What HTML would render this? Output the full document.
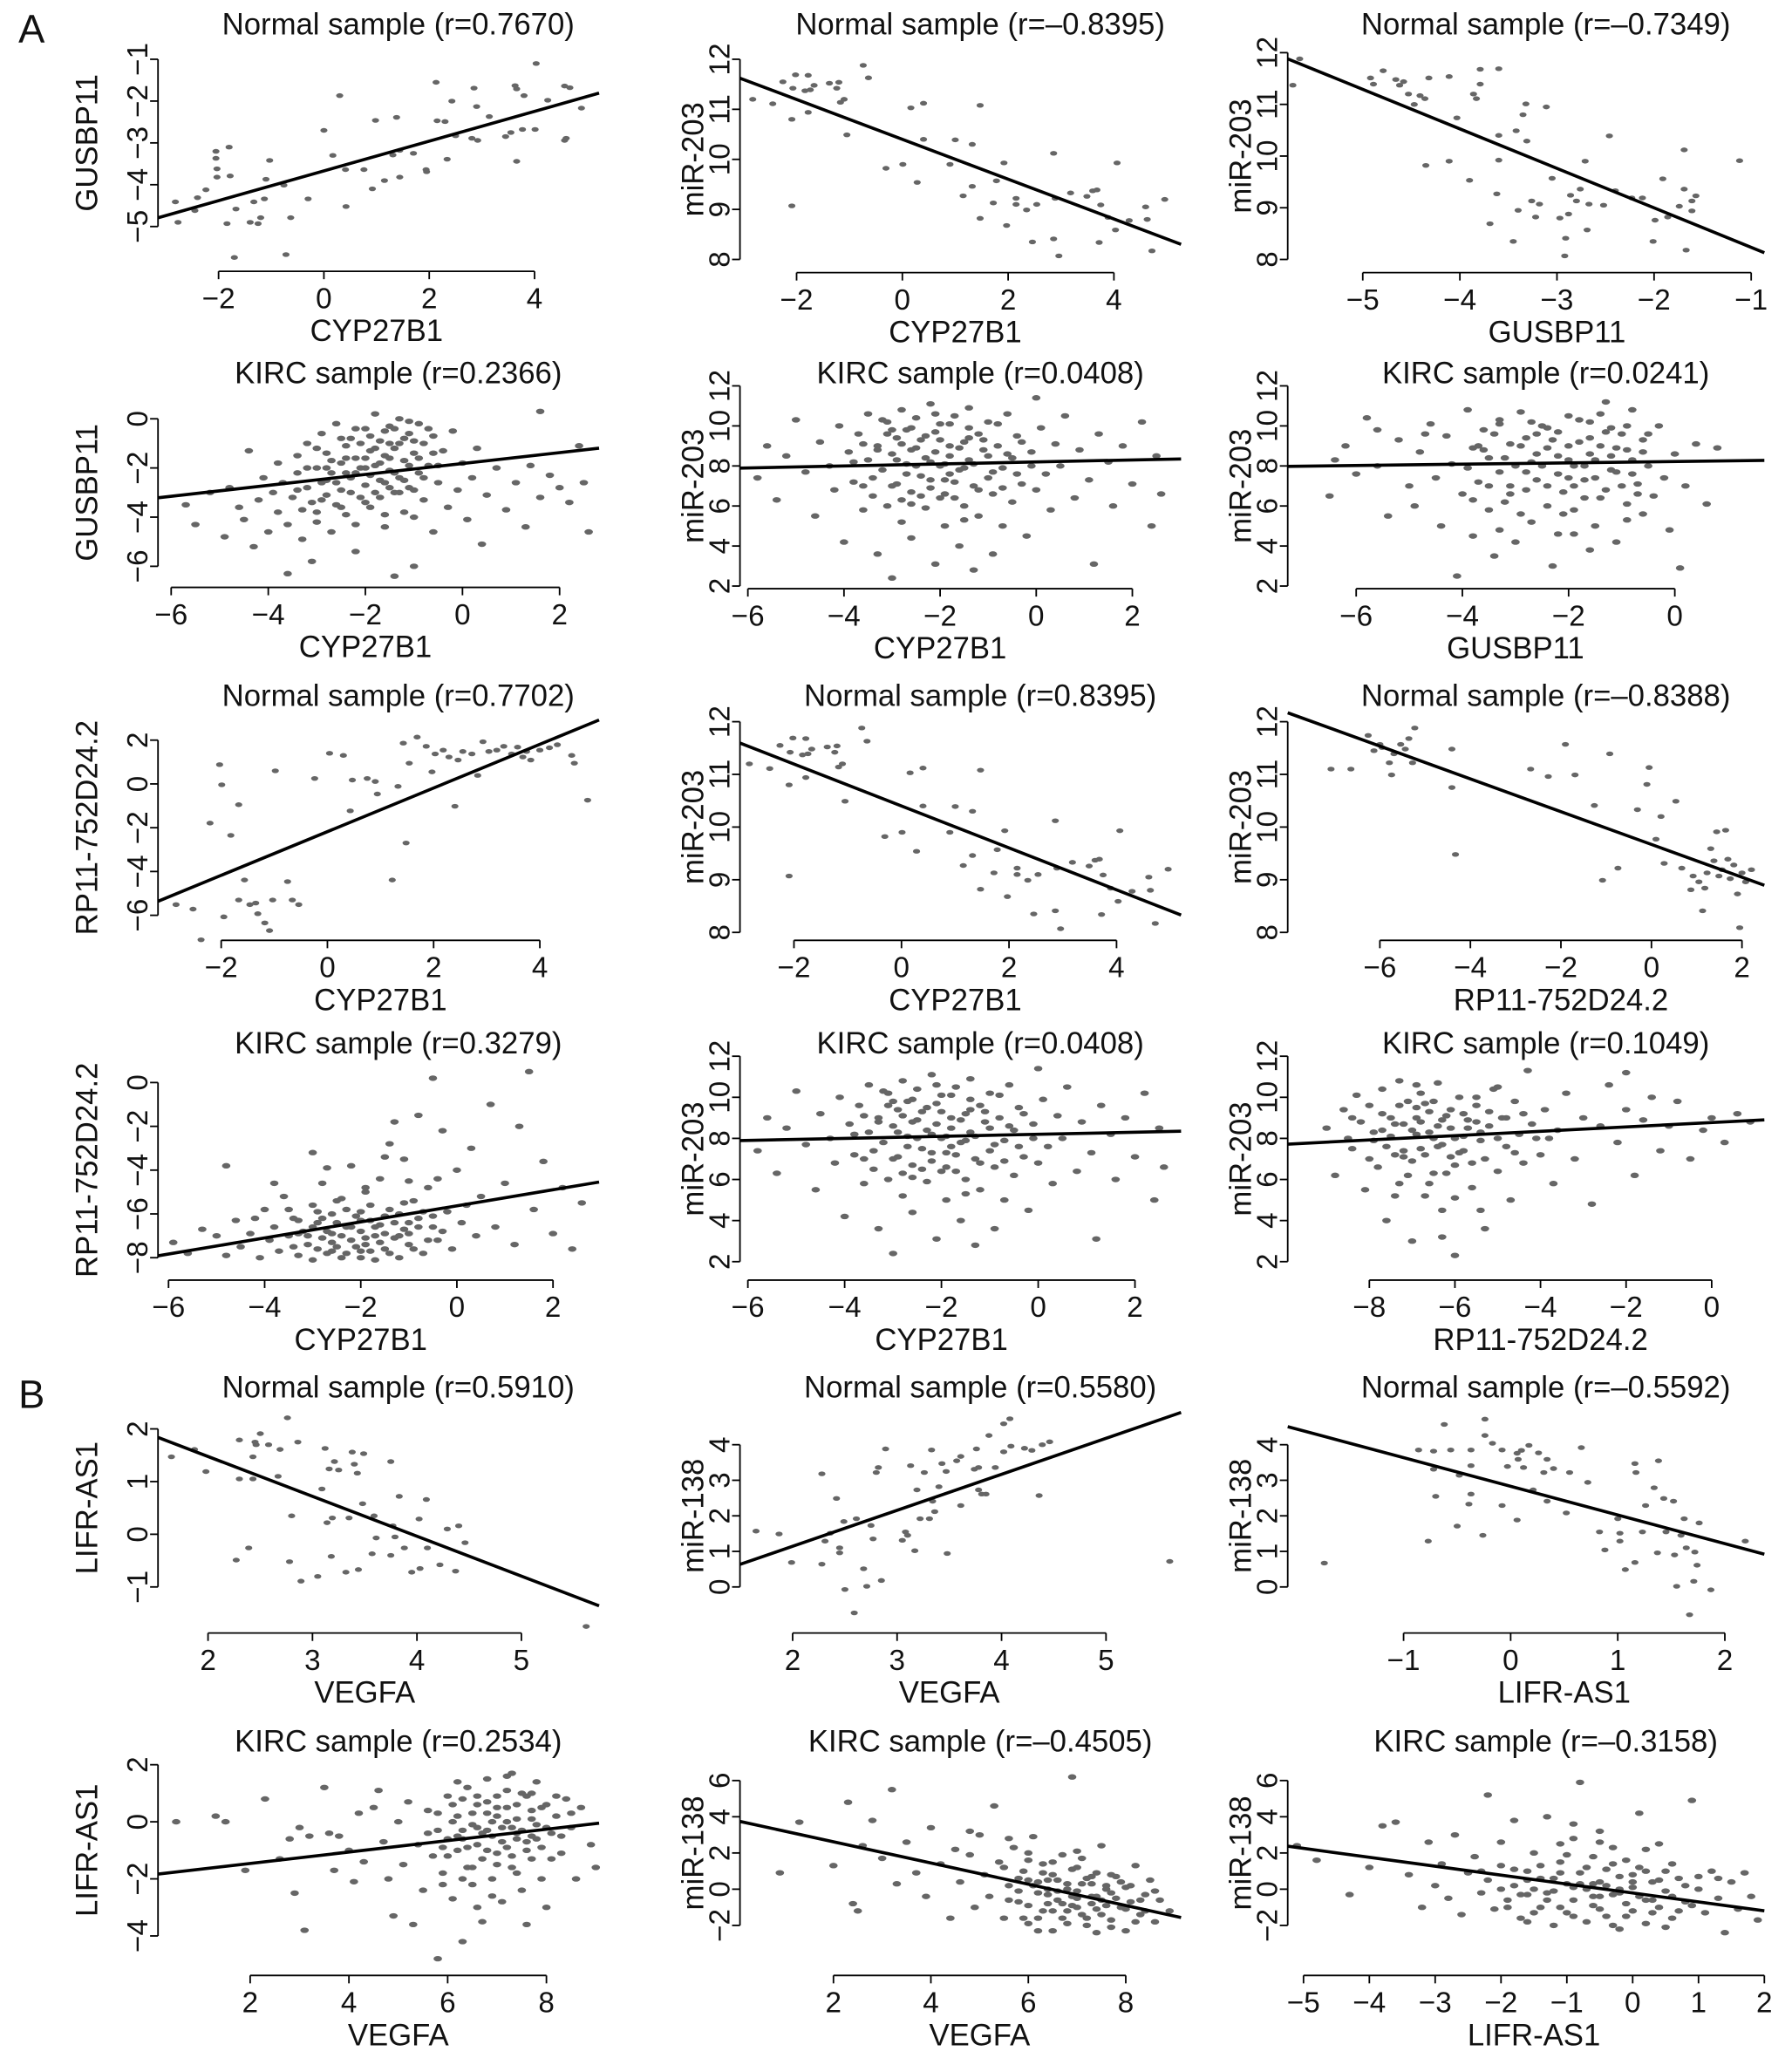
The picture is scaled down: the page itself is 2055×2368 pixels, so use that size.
<!DOCTYPE html>
<html><head><meta charset="utf-8"><title>Correlation scatter plots</title>
<style>
html,body{margin:0;padding:0;background:#fff;}
svg{display:block;}
text{font-family:"Liberation Sans",Arial,sans-serif;fill:#111;}
</style></head>
<body>
<svg id="fig" xmlns="http://www.w3.org/2000/svg" width="2055" height="2368" viewBox="0 0 1361 1568" preserveAspectRatio="none">
<rect x="0" y="0" width="1361" height="1568" fill="#fff"/>
<text x="14" y="32" font-size="30">A</text>
<text x="14" y="1069" font-size="30">B</text>
</svg>
<script>
const titles=["Normal sample (r=0.7670)","Normal sample (r=–0.8395)","Normal sample (r=–0.7349)",
"KIRC sample (r=0.2366)","KIRC sample (r=0.0408)","KIRC sample (r=0.0241)",
"Normal sample (r=0.7702)","Normal sample (r=0.8395)","Normal sample (r=–0.8388)",
"KIRC sample (r=0.3279)","KIRC sample (r=0.0408)","KIRC sample (r=0.1049)",
"Normal sample (r=0.5910)","Normal sample (r=0.5580)","Normal sample (r=–0.5592)",
"KIRC sample (r=0.2534)","KIRC sample (r=–0.4505)","KIRC sample (r=–0.3158)"];
const xLabels=["CYP27B1","CYP27B1","GUSBP11","CYP27B1","CYP27B1","GUSBP11","CYP27B1","CYP27B1","RP11-752D24.2","CYP27B1","CYP27B1","RP11-752D24.2","VEGFA","VEGFA","LIFR-AS1","VEGFA","VEGFA","LIFR-AS1"];
const yLabels=["GUSBP11","miR-203","miR-203","GUSBP11","miR-203","miR-203","RP11-752D24.2","miR-203","miR-203","RP11-752D24.2","miR-203","miR-203","LIFR-AS1","miR-138","miR-138","LIFR-AS1","miR-138","miR-138"];
const xTicks=[[-2,0,2,4],[-2,0,2,4],[-5,-4,-3,-2,-1],[-6,-4,-2,0,2],[-6,-4,-2,0,2],[-6,-4,-2,0],[-2,0,2,4],[-2,0,2,4],[-6,-4,-2,0,2],[-6,-4,-2,0,2],[-6,-4,-2,0,2],[-8,-6,-4,-2,0],[2,3,4,5],[2,3,4,5],[-1,0,1,2],[2,4,6,8],[2,4,6,8],[-5,-4,-3,-2,-1,0,1,2]];
const yTicks=[[-5,-4,-3,-2,-1],[8,9,10,11,12],[8,9,10,11,12],[-6,-4,-2,0],[2,4,6,8,10,12],[2,4,6,8,10,12],[-6,-4,-2,0,2],[8,9,10,11,12],[8,9,10,11,12],[-8,-6,-4,-2,0],[2,4,6,8,10,12],[2,4,6,8,10,12],[-1,0,1,2],[0,1,2,3,4],[0,1,2,3,4],[-4,-2,0,2],[-2,0,2,4,6],[-2,0,2,4,6]];
const fitSlope=[0.356,-0.398,-0.764,0.222,0.05,0.033,0.997,-0.398,-0.311,0.367,0.05,0.106,-0.757,1.012,-0.806,0.2,-0.586,-0.493];
const fitIntercept=[-3.67,10.40,7.47,-1.82,8.2,8.22,-2.18,10.40,9.67,-5.63,8.2,8.77,2.99,-0.88,2.83,-1.86,3.79,-0.21];

const ptsNormCypGus=[[-2.82,-4.41],[-2.77,-4.9],[-2.45,-4.62],[-2.4,-4.31],[-2.24,-4.12],[-2.05,-3.2],[-2.05,-3.37],[-2.03,-3.62],[-2.03,-3.82],[-1.8,-3.1],[-1.78,-3.79],[-1.84,-4.93],[-1.67,-4.58],[-1.7,-5.74],[-1.4,-4.9],[-1.33,-4.41],[-1.25,-4.93],[-1.2,-4.79],[-1.13,-4.34],[-1.1,-3.87],[-1.03,-3.42],[-0.76,-4.01],[-0.72,-5.67],[-0.63,-4.79],[-0.3,-4.34],[0,-2.7],[0.17,-3.3],[0.3,-1.87],[0.41,-3.64],[0.42,-4.52],[0.76,-3.64],[0.92,-4.1],[0.98,-2.46],[1.15,-3.9],[1.31,-3.29],[1.38,-2.39],[1.44,-3.18],[1.44,-3.82],[1.7,-3.25],[1.94,-3.64],[1.95,-3.69],[2.13,-1.55],[2.15,-2.47],[2.3,-2.49],[2.34,-3.39],[2.43,-2.0],[2.5,-2.83],[2.85,-1.69],[2.9,-2.13],[2.81,-2.89],[2.92,-2.94],[3.14,-2.37],[3.45,-2.85],[3.55,-2.75],[3.63,-1.63],[3.66,-1.71],[3.66,-3.44],[3.77,-2.68],[3.8,-1.87],[4.03,-1.1],[4.01,-2.68],[4.25,-1.98],[4.57,-1.64],[4.67,-1.68],[4.57,-2.94],[4.6,-2.89],[4.89,-2.17]];
const ptsNormCypMir=[[-2.83,11.2],[-2.45,11.11],[-2.26,11.55],[-2.09,10.8],[-2.07,11.42],[-2.09,9.07],[-2.02,11.69],[-1.84,11.37],[-1.78,11.68],[-1.78,10.94],[-1.74,11.39],[-1.67,11.48],[-1.38,11.52],[-1.24,11.42],[-1.2,11.54],[-1.17,11.14],[-1.1,11.2],[-1.05,10.49],[-0.74,11.88],[-0.64,11.63],[-0.31,9.82],[0.01,9.9],[0.16,11.03],[0.4,11.12],[0.28,9.54],[0.4,10.4],[0.9,9.9],[1.0,10.39],[1.15,9.27],[1.32,10.3],[1.32,9.46],[1.47,11.08],[1.47,8.82],[1.72,9.13],[1.78,9.57],[1.92,9.93],[1.97,8.68],[2.15,9.22],[2.15,9.1],[2.35,8.99],[2.46,8.35],[2.54,9.1],[2.86,10.12],[2.89,9.22],[2.86,8.41],[2.96,8.07],[3.18,9.33],[3.49,9.26],[3.6,9.37],[3.68,9.39],[3.75,9.09],[3.72,8.34],[3.89,8.84],[4.03,8.59],[4.06,9.93],[4.29,8.78],[4.6,9.05],[4.63,8.8],[4.72,8.17],[4.96,9.2]];
const ptsNormGusMir=[[-5.72,11.37],[-5.65,11.88],[-4.92,11.51],[-4.89,11.39],[-4.79,11.65],[-4.66,11.48],[-4.62,11.37],[-4.58,11.44],[-4.53,11.2],[-4.47,11.0],[-4.41,11.17],[-4.36,11.11],[-4.32,11.51],[-4.35,9.82],[-4.11,11.54],[-4.11,9.9],[-4.03,10.74],[-3.9,9.53],[-3.86,11.2],[-3.83,11.11],[-3.79,11.68],[-3.79,11.39],[-3.69,8.69],[-3.62,9.27],[-3.6,10.4],[-3.6,9.92],[-3.6,11.69],[-3.45,8.35],[-3.42,10.49],[-3.4,8.95],[-3.35,10.8],[-3.32,11.01],[-3.31,10.29],[-3.26,9.13],[-3.22,8.82],[-3.18,9.07],[-3.11,10.95],[-3.05,9.57],[-2.97,8.8],[-2.92,8.07],[-2.91,8.41],[-2.88,8.88],[-2.86,9.24],[-2.8,9.13],[-2.76,9.36],[-2.71,9.9],[-2.69,8.57],[-2.67,9.07],[-2.52,9.05],[-2.46,10.39],[-2.4,9.33],[-2.23,9.19],[-2.12,9.19],[-2.01,8.35],[-1.99,8.76],[-1.91,9.56],[-1.86,8.82],[-1.74,9.03],[-1.69,10.12],[-1.69,9.36],[-1.67,8.18],[-1.61,9.13],[-1.57,9.23],[-1.61,8.94],[-1.12,9.91]];
const ptsKircCypGus=[[-5.7,-3.5],[-5.5,-4.3],[-5.2,-3.0],[-4.9,-4.8],[-4.8,-2.8],[-4.6,-3.6],[-4.5,-4.1],[-4.4,-1.3],[-4.3,-5.2],[-4.2,-3.3],[-4.1,-2.4],[-4.0,-4.6],[-3.9,-3.0],[-3.8,-1.8],[-3.8,-3.8],[-3.7,-2.6],[-3.6,-4.3],[-3.6,-6.3],[-3.5,-3.2],[-3.4,-1.5],[-3.4,-2.2],[-3.3,-3.7],[-3.3,-4.9],[-3.2,-2.8],[-3.2,-1.0],[-3.1,-3.4],[-3.0,-2.0],[-3.0,-4.2],[-2.9,-0.6],[-2.9,-2.6],[-2.8,-3.1],[-2.8,-1.4],[-2.7,-4.6],[-2.7,-2.2],[-2.6,-3.5],[-2.6,-0.2],[-2.5,-1.8],[-2.5,-2.9],[-2.4,-1.1],[-2.4,-3.9],[-2.3,-2.4],[-2.3,-0.8],[-2.2,-5.4],[-2.2,-1.6],[-2.1,-3.2],[-2.1,-2.0],[-2.0,-0.4],[-2.0,-2.7],[-1.9,-1.3],[-1.9,-3.6],[-1.8,-1.9],[-1.8,0.2],[-1.7,-2.5],[-1.7,-0.9],[-1.6,-4.4],[-1.6,-1.5],[-1.5,-2.1],[-1.5,-0.3],[-1.4,-3.0],[-1.4,-1.2],[-1.3,-2.4],[-1.3,0.0],[-1.2,-1.7],[-1.2,-3.8],[-1.1,-0.6],[-1.1,-2.8],[-1.0,-1.4],[-1.0,-4.0],[-0.9,-2.2],[-0.9,-0.2],[-0.8,-1.0],[-0.8,-3.3],[-0.7,-1.9],[-0.6,-0.7],[-0.6,-4.6],[-0.5,-2.6],[-0.4,-1.3],[-0.3,-3.6],[-0.2,-0.5],[-0.1,-2.9],[0.0,-1.8],[0.1,-4.1],[0.2,-2.4],[0.3,-1.2],[0.4,-5.1],[0.5,-3.1],[0.7,-2.0],[0.9,-3.7],[1.1,-2.6],[1.3,-4.4],[1.4,-1.9],[1.6,-3.2],[1.8,-2.3],[2.0,-2.8],[2.2,-3.4],[2.4,-1.1],[2.5,-2.6],[2.6,-4.6],[1.6,0.3],[-1.0,-6.0],[-3.1,-5.8],[-1.4,-6.4],[-2.0,-1.6],[-1.6,-2.6],[-2.4,-2.2],[-1.2,-0.8],[-1.8,-3.0],[-2.8,-2.0],[-1.5,-1.0],[-2.2,-0.4],
[-3.2,-2.0],[-3.0,-1.2],[-2.9,-3.3],[-2.7,-1.7],[-2.6,-2.6],[-2.5,-0.8],[-2.4,-1.6],[-2.3,-3.0],[-2.2,-2.2],[-2.1,-1.0],[-2.0,-3.4],[-1.9,-2.3],[-1.9,-0.7],[-1.8,-1.2],[-1.7,-3.2],[-1.7,-1.8],[-1.6,-0.5],[-1.5,-2.8],[-1.5,-1.6],[-1.4,-2.2],[-1.4,-0.4],[-1.3,-1.0],[-1.3,-3.0],[-1.2,-2.5],[-1.1,-1.9],[-1.1,-0.1],[-1.0,-2.9],[-1.0,-0.9],[-0.9,-1.6],[-0.8,-2.4],[-0.7,-0.4],[-0.6,-1.4],[-2.8,-2.5],[-3.4,-2.9],[-2.0,-2.0],[-1.6,-3.9],[-2.5,-3.6],[-0.5,-1.9],[-3.0,-3.8],[-2.2,-4.3]];
const ptsKircCypMir=[[-5.8,7.4],[-5.6,9.0],[-5.4,6.3],[-5.2,8.5],[-5.0,10.3],[-4.8,7.7],[-4.6,5.5],[-4.5,9.2],[-4.3,8.0],[-4.2,6.8],[-4.1,10.0],[-4.0,4.2],[-3.9,8.7],[-3.8,7.2],[-3.7,9.6],[-3.6,5.8],[-3.5,8.3],[-3.5,10.6],[-3.4,6.5],[-3.3,9.0],[-3.3,3.6],[-3.2,7.8],[-3.1,10.2],[-3.1,6.0],[-3.0,8.6],[-3.0,2.4],[-2.9,9.4],[-2.9,7.1],[-2.8,10.8],[-2.8,5.2],[-2.7,8.1],[-2.7,9.8],[-2.6,6.7],[-2.6,4.4],[-2.5,8.9],[-2.5,10.4],[-2.4,7.5],[-2.4,9.3],[-2.3,5.9],[-2.3,8.4],[-2.2,11.1],[-2.2,6.9],[-2.1,9.7],[-2.1,3.1],[-2.0,8.0],[-2.0,10.1],[-1.9,7.3],[-1.9,5.0],[-1.8,9.0],[-1.8,8.5],[-1.7,6.4],[-1.7,10.5],[-1.6,7.8],[-1.6,4.0],[-1.5,9.2],[-1.5,6.0],[-1.4,8.3],[-1.4,10.9],[-1.3,7.0],[-1.3,2.8],[-1.2,9.6],[-1.2,5.5],[-1.1,8.8],[-1.0,7.4],[-1.0,10.2],[-0.9,6.6],[-0.9,3.6],[-0.8,9.0],[-0.7,7.9],[-0.7,5.0],[-0.6,10.6],[-0.5,8.4],[-0.5,6.2],[-0.4,9.5],[-0.3,7.1],[-0.2,4.5],[-0.1,8.7],[0.0,11.4],[0.0,6.8],[0.1,9.9],[0.2,7.6],[0.3,5.8],[0.4,9.1],[0.5,8.0],[0.6,10.5],[0.8,6.4],[0.9,8.8],[1.1,7.3],[1.2,3.1],[1.3,9.6],[1.5,8.2],[1.6,6.0],[1.8,9.0],[2.0,7.1],[2.2,10.2],[2.4,5.0],[2.5,8.5],[2.6,6.6],[-2.2,8.2],[-1.8,7.6],[-2.6,8.8],[-1.4,9.4],[-3.0,9.8],[-2.0,6.4],
[-3.8,8.2],[-3.6,9.1],[-3.4,7.4],[-3.3,8.8],[-3.1,9.6],[-3.0,7.0],[-2.9,8.3],[-2.8,9.1],[-2.7,7.6],[-2.6,9.9],[-2.5,8.0],[-2.4,6.5],[-2.3,9.5],[-2.2,7.3],[-2.1,8.7],[-2.0,9.3],[-1.9,8.1],[-1.8,10.1],[-1.7,7.2],[-1.6,8.9],[-1.5,7.9],[-1.4,9.9],[-1.3,8.1],[-1.2,6.8],[-1.1,9.3],[-1.0,8.5],[-0.9,7.7],[-0.8,10.1],[-0.6,8.6],[-0.4,7.6],[-0.3,9.2],[-0.1,8.0],[-2.6,6.1],[-1.9,6.6],[-3.2,10.3],[-2.1,10.6],[-1.5,5.3],[-2.8,6.3],[-0.7,6.9],[-3.6,7.0]];
const ptsKircGusMir=[[-6.5,6.5],[-6.2,9.0],[-6.0,7.6],[-5.8,10.4],[-5.6,8.0],[-5.4,5.5],[-5.2,9.3],[-5.0,7.0],[-4.9,6.0],[-4.8,8.7],[-4.6,10.1],[-4.5,7.4],[-4.4,5.0],[-4.3,9.5],[-4.2,8.1],[-4.1,2.5],[-4.0,6.6],[-3.9,10.8],[-3.8,8.9],[-3.8,4.5],[-3.7,7.2],[-3.6,9.8],[-3.5,5.8],[-3.5,8.4],[-3.4,3.5],[-3.3,10.3],[-3.3,7.7],[-3.2,6.2],[-3.1,9.1],[-3.0,4.2],[-3.0,8.0],[-2.9,10.7],[-2.8,6.8],[-2.8,9.4],[-2.7,5.2],[-2.6,8.6],[-2.6,7.3],[-2.5,10.0],[-2.4,6.0],[-2.4,8.9],[-2.3,3.0],[-2.2,7.6],[-2.2,9.7],[-2.1,5.6],[-2.0,8.3],[-2.0,10.5],[-1.9,7.0],[-1.9,4.6],[-1.8,9.2],[-1.7,6.4],[-1.7,8.0],[-1.6,10.2],[-1.5,7.4],[-1.5,5.0],[-1.4,9.0],[-1.3,6.8],[-1.3,11.2],[-1.2,8.5],[-1.1,4.2],[-1.1,7.7],[-1.0,9.6],[-0.9,6.1],[-0.9,8.8],[-0.8,10.8],[-0.7,7.1],[-0.6,5.6],[-0.6,9.3],[-0.5,8.0],[-0.4,6.5],[-0.3,10.0],[-0.2,7.4],[-0.1,4.8],[0.0,8.6],[0.1,2.9],[0.2,7.0],[0.4,9.1],[0.6,6.1],[0.8,8.9],[-2.7,8.2],[-2.0,7.4],[-1.6,8.6],[-3.1,7.0],[-2.4,9.9],[-1.2,9.9],[-3.6,8.8],[-0.8,7.6],[-4.7,9.6],[-5.6,9.8],[-6.4,8.3],
[-3.9,7.9],[-3.7,9.0],[-3.5,7.0],[-3.4,9.6],[-3.2,8.4],[-3.1,6.6],[-2.9,9.0],[-2.8,7.7],[-2.7,10.2],[-2.5,8.0],[-2.4,7.0],[-2.3,9.3],[-2.2,8.5],[-2.1,6.7],[-2.0,9.0],[-1.9,8.0],[-1.8,10.3],[-1.7,7.3],[-1.6,9.4],[-1.5,8.3],[-1.4,6.4],[-1.3,9.7],[-1.2,7.8],[-1.1,8.9],[-1.0,7.0],[-0.9,10.0],[-0.8,8.3],[-0.7,6.6],[-0.6,8.7],[-0.5,9.6],[-2.6,9.6],[-3.3,10.1],[-1.9,5.8],[-2.9,5.6],[-1.4,10.6],[-0.9,5.3],[-3.8,6.3],[-2.2,4.6],[-1.6,3.8],[-3.3,4.8]];
const ptsNormCypRp=[[-2.85,-5.51],[-2.38,-7.12],[-2.53,-5.72],[-2.21,-1.79],[-2.03,0.88],[-1.99,-0.04],[-1.95,-6.07],[-1.82,-2.35],[-1.67,-0.95],[-1.67,-5.3],[-1.56,-4.39],[-1.46,-5.51],[-1.35,-5.44],[-1.31,-5.93],[-1.18,-6.35],[-1.09,-6.7],[-1.03,-5.3],[-0.98,0.6],[-0.75,-4.46],[-0.66,-5.3],[-0.54,-5.51],[-0.24,0.25],[0.04,1.4],[0.3,1.3],[0.47,0.18],[0.43,-1.23],[0.75,0.25],[0.9,0.11],[0.94,-0.46],[1.22,-4.39],[1.33,-0.11],[1.43,1.86],[1.48,-2.7],[1.54,0.95],[1.69,2.14],[1.86,1.72],[1.97,0.55],[2.03,1.37],[2.18,1.54],[2.29,1.23],[2.4,-1.02],[2.46,1.09],[2.55,1.48],[2.72,1.37],[2.83,0.39],[2.93,1.93],[3.04,1.48],[3.19,1.54],[3.32,1.72],[3.47,1.37],[3.58,1.68],[3.68,1.23],[3.75,1.48],[3.83,1.09],[4.0,1.54],[4.18,1.65],[4.33,1.79],[4.6,1.3],[4.65,0.95],[4.9,-0.74]];
const ptsNormRpMir=[[-7.08,11.1],[-6.64,11.1],[-6.26,11.74],[-6.13,11.45],[-6.0,11.57],[-5.95,11.51],[-5.79,11.22],[-5.69,11.39],[-5.74,10.99],[-5.54,11.57],[-5.44,11.48],[-5.36,11.68],[-5.28,11.22],[-5.23,11.88],[-4.41,11.48],[-4.41,10.75],[-4.33,9.48],[-2.67,11.1],[-2.28,10.96],[-1.9,11.57],[-1.69,10.99],[-1.26,10.41],[-1.08,8.99],[-0.92,11.39],[-0.74,9.22],[-0.31,10.33],[-0.1,10.81],[-0.05,11.13],[0.1,9.77],[0.21,10.2],[0.28,9.31],[0.54,10.49],[0.67,9.22],[0.87,8.81],[0.92,9.07],[1.05,8.96],[1.13,8.41],[1.18,8.84],[1.23,9.13],[1.31,9.59],[1.38,9.36],[1.44,9.91],[1.49,9.07],[1.56,9.19],[1.64,9.94],[1.69,9.39],[1.74,9.02],[1.82,9.28],[1.9,8.73],[1.95,8.09],[2.0,9.13],[2.08,8.96],[2.21,9.19]];
const ptsKircCypRp=[[-5.9,-7.3],[-5.6,-7.8],[-5.3,-6.7],[-5.0,-7.0],[-4.8,-7.9],[-4.6,-6.3],[-4.5,-7.5],[-4.3,-6.9],[-4.1,-8.0],[-4.0,-5.8],[-3.9,-7.2],[-3.8,-6.6],[-3.7,-7.7],[-3.6,-5.2],[-3.5,-7.0],[-3.4,-6.2],[-3.3,-7.9],[-3.2,-6.8],[-3.1,-7.4],[-3.0,-5.6],[-3.0,-8.1],[-2.9,-6.4],[-2.8,-7.1],[-2.8,-4.6],[-2.7,-7.8],[-2.6,-6.0],[-2.6,-6.9],[-2.5,-7.5],[-2.4,-5.3],[-2.4,-8.0],[-2.3,-6.6],[-2.2,-7.2],[-2.2,-3.8],[-2.1,-6.1],[-2.0,-7.7],[-2.0,-6.8],[-1.9,-5.0],[-1.9,-7.4],[-1.8,-6.3],[-1.7,-8.1],[-1.7,-7.0],[-1.6,-4.4],[-1.6,-6.5],[-1.5,-7.6],[-1.4,-5.8],[-1.4,-2.8],[-1.3,-7.1],[-1.2,-6.0],[-1.2,-8.0],[-1.1,-3.5],[-1.1,-6.7],[-1.0,-7.4],[-0.9,-5.4],[-0.8,-6.2],[-0.8,-1.5],[-0.7,-7.8],[-0.6,-4.8],[-0.5,-6.6],[-0.5,0.2],[-0.4,-7.2],[-0.3,-2.2],[-0.2,-5.9],[-0.1,-7.6],[0.0,-4.0],[0.1,-6.4],[0.3,-3.0],[0.4,-7.0],[0.5,-5.2],[0.7,-1.0],[0.8,-6.6],[1.0,-4.6],[1.2,-7.4],[1.3,-2.0],[1.5,0.5],[1.6,-5.8],[1.8,-3.6],[2.0,-6.9],[2.2,-4.8],[2.4,-7.6],[2.6,-5.5],[-2.3,-7.8],[-1.8,-7.7],[-2.6,-7.3],[-3.3,-6.9],[-1.5,-6.9],[-1.0,-6.4],[-2.0,-5.9],[-2.9,-5.9],[-3.8,-4.6],[-4.8,-3.8],[-1.3,-1.8],[-3.0,-3.2],
[-3.4,-7.5],[-3.3,-6.3],[-3.1,-7.0],[-3.0,-6.6],[-2.9,-7.6],[-2.8,-6.2],[-2.7,-6.8],[-2.6,-7.7],[-2.5,-6.4],[-2.4,-7.0],[-2.3,-5.8],[-2.2,-6.6],[-2.1,-7.5],[-2.0,-6.3],[-1.9,-7.1],[-1.8,-5.6],[-1.7,-6.6],[-1.6,-7.3],[-1.5,-6.1],[-1.4,-7.8],[-1.3,-6.4],[-1.2,-7.0],[-1.1,-5.5],[-1.0,-6.9],[-0.9,-7.6],[-0.8,-6.6],[-0.7,-5.9],[-0.6,-7.2],[-0.5,-6.1],[-0.3,-6.8],[-2.5,-5.4],[-1.9,-4.8],[-3.5,-5.8],[-1.0,-4.5],[-2.7,-3.9],[-0.4,-4.4],[-1.5,-3.4],[0.2,-5.6],[-4.2,-6.2],[-2.0,-8.0]];
const ptsKircRpMir=[[-9.0,8.5],[-8.8,6.2],[-8.6,9.4],[-8.4,7.5],[-8.3,10.1],[-8.2,8.8],[-8.1,5.5],[-8.0,9.6],[-7.9,7.9],[-7.8,6.6],[-7.7,10.4],[-7.7,8.4],[-7.6,4.0],[-7.5,9.0],[-7.4,7.2],[-7.3,10.8],[-7.3,5.8],[-7.2,8.7],[-7.1,9.8],[-7.0,6.9],[-7.0,3.0],[-6.9,8.2],[-6.8,10.2],[-6.8,7.5],[-6.7,5.2],[-6.6,9.3],[-6.5,8.0],[-6.5,6.3],[-6.4,10.7],[-6.3,7.7],[-6.3,4.5],[-6.2,9.1],[-6.1,8.5],[-6.0,6.7],[-6.0,2.3],[-5.9,10.0],[-5.8,7.4],[-5.7,8.9],[-5.6,5.6],[-5.5,9.6],[-5.4,7.9],[-5.3,3.6],[-5.2,8.6],[-5.1,10.4],[-5.0,6.4],[-4.9,9.0],[-4.8,7.6],[-4.7,5.0],[-4.6,9.8],[-4.5,8.2],[-4.4,6.8],[-4.3,11.3],[-4.2,8.7],[-4.0,7.2],[-3.9,9.4],[-3.7,5.8],[-3.6,8.4],[-3.4,10.2],[-3.2,7.0],[-3.0,9.0],[-2.8,4.8],[-2.6,8.6],[-2.4,10.6],[-2.2,7.8],[-2.0,9.4],[-1.8,6.2],[-1.6,8.9],[-1.4,10.0],[-1.2,7.4],[-1.0,8.6],[-0.8,9.8],[-0.5,7.0],[-0.2,8.4],[0.0,9.0],[0.3,7.8],[0.6,9.2],[0.9,8.8],[-7.5,8.1],[-6.9,9.0],[-6.4,8.6],[-5.8,8.1],[-7.2,7.4],[-6.1,7.1],[-5.5,8.8],[-8.5,8.0],[-6.7,9.7],[-4.1,8.0],[-2.0,11.2],
[-7.9,8.3],[-7.7,9.2],[-7.6,7.6],[-7.4,8.7],[-7.3,9.6],[-7.2,7.1],[-7.0,8.4],[-6.9,9.5],[-6.8,8.8],[-6.7,7.2],[-6.6,8.3],[-6.5,9.8],[-6.4,7.6],[-6.3,8.9],[-6.2,6.3],[-6.1,9.4],[-6.0,8.0],[-5.9,7.3],[-5.8,9.2],[-5.7,8.5],[-5.6,6.8],[-5.5,10.0],[-5.4,8.3],[-5.3,7.0],[-5.2,9.3],[-5.0,8.0],[-4.8,9.0],[-4.6,7.3],[-7.1,6.2],[-6.6,5.8],[-6.0,5.1],[-7.4,5.2],[-5.4,4.5],[-6.9,10.6],[-8.4,9.0],[-8.0,7.0],[-6.3,3.2],[-4.4,9.2],[-3.8,8.0],[-5.0,10.5]];
const ptsNormVegLifr=[[1.65,1.47],[1.98,1.19],[1.87,1.61],[2.27,-0.49],[2.3,1.05],[2.3,1.79],[2.39,-0.26],[2.43,1.47],[2.43,1.05],[2.45,1.75],[2.46,1.7],[2.5,1.91],[2.58,1.7],[2.67,1.1],[2.69,1.61],[2.76,2.21],[2.78,-0.52],[2.8,0.35],[2.86,1.75],[2.89,-0.89],[3.05,-0.8],[3.09,0.86],[3.12,1.63],[3.14,0.22],[3.16,1.24],[3.18,-0.42],[3.19,0.31],[3.21,1.38],[3.25,1.22],[3.32,-0.72],[3.35,0.31],[3.38,1.56],[3.4,1.33],[3.43,1.16],[3.44,-0.67],[3.48,0.58],[3.49,1.53],[3.57,-0.37],[3.59,0.35],[3.61,-0.07],[3.75,1.38],[3.75,-0.4],[3.77,0.16],[3.79,-0.05],[3.83,0.72],[3.88,-0.26],[3.95,-0.72],[4.02,0.29],[4.03,-0.65],[4.09,0.66],[4.1,-0.26],[4.22,-0.58],[4.29,0.1],[4.37,-0.7],[4.4,0.16],[4.46,-0.16],[5.62,-1.75]];
const ptsNormVegMir=[[1.65,1.57],[1.87,1.49],[1.99,0.69],[2.28,3.18],[2.28,0.64],[2.31,1.29],[2.36,1.51],[2.42,2.49],[2.45,1.1],[2.45,0.96],[2.49,1.84],[2.5,-0.07],[2.59,-0.73],[2.61,1.92],[2.68,0.51],[2.71,0.02],[2.75,1.73],[2.77,1.35],[2.8,3.22],[2.82,3.36],[2.85,0.18],[2.89,3.88],[3.05,1.31],[3.08,1.55],[3.1,1.45],[3.13,3.41],[3.17,1.02],[3.19,2.73],[3.22,1.92],[3.26,3.22],[3.31,1.92],[3.33,3.85],[3.34,2.41],[3.36,2.12],[3.4,2.82],[3.43,3.47],[3.47,3.25],[3.48,0.94],[3.57,3.55],[3.61,2.29],[3.61,3.67],[3.74,3.31],[3.76,3.88],[3.78,3.36],[3.78,2.73],[3.81,2.61],[3.85,2.61],[3.88,4.26],[3.94,3.36],[4.02,3.8],[4.02,4.59],[4.08,4.73],[4.09,3.96],[4.22,3.9],[4.29,3.84],[4.36,2.57],[4.39,4.0],[4.46,4.08],[5.61,0.72]];
const ptsNormLifrMir=[[-1.74,0.67],[-0.86,3.85],[-0.77,1.29],[-0.72,3.82],[-0.72,3.31],[-0.7,2.55],[-0.62,4.57],[-0.56,3.85],[-0.5,1.71],[-0.48,3.14],[-0.39,2.33],[-0.37,3.85],[-0.37,3.41],[-0.37,2.61],[-0.26,1.45],[-0.24,4.72],[-0.24,4.26],[-0.17,4.04],[-0.08,3.85],[-0.08,2.29],[-0.03,3.39],[0.06,3.76],[0.06,1.88],[0.07,3.59],[0.1,3.84],[0.12,3.36],[0.17,3.98],[0.21,2.73],[0.26,3.77],[0.31,3.22],[0.34,3.59],[0.34,2.41],[0.4,3.33],[0.52,2.08],[0.55,3.22],[0.66,3.92],[0.72,2.94],[0.83,1.55],[0.88,1.04],[1.0,1.92],[1.02,1.51],[1.02,1.29],[1.07,0.49],[1.16,0.69],[1.16,3.47],[1.17,3.22],[1.23,1.55],[1.26,2.29],[1.34,2.79],[1.37,0.96],[1.38,3.55],[1.43,2.49],[1.45,1.55],[1.52,2.41],[1.53,0.9],[1.55,0.02],[1.59,1.45],[1.62,1.92],[1.64,1.1],[1.67,-0.78],[1.71,0.16],[1.72,0.98],[1.74,0.61],[1.76,1.8],[1.87,-0.08],[2.19,1.29]];
const ptsKircVegLifr=[[0.5,0.0],[1.3,0.2],[1.5,0.0],[1.9,-1.7],[2.3,0.8],[2.6,-1.3],[2.8,-0.6],[2.9,-2.5],[3.0,-0.2],[3.1,-3.8],[3.2,-0.5],[3.5,1.2],[3.6,-0.4],[3.7,-1.7],[3.8,-0.5],[4.0,-1.0],[4.1,-2.1],[4.2,0.3],[4.3,-1.4],[4.5,0.5],[4.6,1.1],[4.7,-0.7],[4.8,-2.0],[4.9,-3.3],[5.0,0.0],[5.1,-1.5],[5.2,0.7],[5.3,-3.6],[5.4,-0.8],[5.5,-2.4],[5.6,0.4],[5.7,-1.2],[5.8,-4.8],[5.8,-0.3],[5.9,-1.8],[6.0,0.9],[6.0,-0.6],[6.1,-2.7],[6.2,0.2],[6.2,-1.0],[6.3,-4.2],[6.3,-0.3],[6.4,1.2],[6.4,-1.6],[6.5,-0.1],[6.5,-2.2],[6.6,0.6],[6.6,-0.8],[6.7,-3.5],[6.7,-1.3],[6.8,0.3],[6.8,1.5],[6.9,-0.5],[6.9,-2.0],[7.0,0.9],[7.0,-1.1],[7.1,-0.2],[7.1,-2.8],[7.2,0.5],[7.2,-0.9],[7.3,1.7],[7.3,-1.6],[7.4,-0.4],[7.4,0.1],[7.5,-2.4],[7.5,1.0],[7.6,-0.7],[7.6,-3.6],[7.7,0.4],[7.7,-1.3],[7.8,1.4],[7.8,-0.1],[7.9,-0.9],[7.9,-2.0],[8.0,0.6],[8.0,-3.0],[8.1,-0.4],[8.2,0.2],[8.3,-1.1],[8.4,0.8],[8.5,-0.2],[8.6,-2.0],[8.7,0.5],[8.9,-0.8],[9.0,-1.6],[6.6,-0.2],[7.0,0.2],[6.3,-0.6],[7.4,-0.6],[6.8,-0.3],[7.2,0.0],[5.9,-0.9],[7.7,-0.5],[6.1,0.0],
[5.6,-0.4],[5.8,0.3],[6.0,-1.2],[6.1,0.6],[6.2,-0.5],[6.3,0.8],[6.4,-0.9],[6.5,0.3],[6.5,-1.6],[6.6,0.9],[6.7,-0.4],[6.8,-1.0],[6.8,0.7],[6.9,0.0],[7.0,-1.5],[7.0,0.5],[7.1,-0.7],[7.2,1.1],[7.3,-0.2],[7.3,-1.2],[7.4,0.6],[7.5,-0.3],[7.6,0.9],[7.6,-1.0],[7.7,0.1],[7.8,-0.6],[7.9,0.5],[8.0,-0.2],[8.1,-1.3],[8.2,0.9],[8.3,-0.5],[6.3,-2.0],[6.9,-2.6],[7.4,-1.8],[5.9,-2.2],[6.6,-3.0],[7.2,1.6],[7.7,1.0],[6.2,1.4],[8.5,0.3]];
const ptsKircVegMir=[[0.9,0.9],[1.3,3.7],[2.0,1.3],[2.3,4.8],[2.4,-0.8],[2.5,-1.2],[2.6,2.4],[2.8,3.8],[3.0,1.7],[3.2,5.5],[3.3,0.3],[3.5,2.6],[3.7,0.9],[3.9,-0.4],[4.0,3.4],[4.2,1.4],[4.4,-1.6],[4.5,2.2],[4.6,0.4],[4.8,1.9],[4.9,-1.0],[5.0,3.0],[5.1,0.8],[5.2,-0.4],[5.3,4.6],[5.4,1.5],[5.5,-1.6],[5.6,0.2],[5.7,2.3],[5.8,-0.7],[5.9,1.0],[6.0,-1.9],[6.0,0.5],[6.1,2.9],[6.2,-0.2],[6.3,1.4],[6.3,-1.2],[6.4,0.0],[6.5,-2.3],[6.5,0.8],[6.6,-0.6],[6.7,1.9],[6.7,-1.6],[6.8,0.3],[6.9,-0.9],[6.9,6.2],[7.0,-0.1],[7.0,1.2],[7.1,-1.4],[7.2,0.6],[7.2,-2.0],[7.3,-0.4],[7.4,0.9],[7.4,-1.1],[7.5,2.4],[7.5,-0.6],[7.6,0.2],[7.7,-1.7],[7.7,-0.2],[7.8,0.7],[7.9,-1.0],[8.0,-2.3],[8.0,0.1],[8.1,-0.7],[8.2,1.3],[8.3,-1.4],[8.4,-0.3],[8.5,0.5],[8.6,-1.8],[8.7,-0.6],[8.9,-1.2],[6.2,0.4],[6.6,-0.1],[7.0,-0.5],[7.3,0.3],[6.8,-1.2],[6.4,-0.8],[7.6,-0.9],[5.8,-0.1],[6.0,1.6],[7.1,1.7],[5.6,2.8],[4.8,3.2],
[5.6,-0.6],[5.8,0.6],[6.0,-0.9],[6.1,0.2],[6.2,-1.6],[6.3,0.9],[6.4,-0.3],[6.5,-1.2],[6.6,0.5],[6.7,-0.8],[6.8,-1.9],[6.8,0.0],[6.9,1.1],[7.0,-1.0],[7.1,0.3],[7.2,-1.6],[7.3,0.7],[7.4,-0.4],[7.5,-1.4],[7.6,0.0],[7.7,-2.1],[7.8,-0.5],[7.9,0.4],[8.0,-1.1],[8.1,0.2],[8.2,-1.8],[8.3,-0.6],[8.4,-1.2],[6.0,2.0],[6.5,1.5],[7.0,2.1],[5.5,1.2],[6.2,-2.3],[7.4,-2.4],[8.6,-0.1],[5.9,-1.6],[6.9,-0.4],[7.3,-0.8],[6.4,0.5],[7.7,0.8]];
const ptsKircLifrMir=[[-5.1,2.4],[-4.8,1.6],[-4.3,-0.3],[-4.0,1.2],[-3.8,3.5],[-3.6,3.7],[-3.4,0.8],[-3.2,-1.0],[-3.1,2.6],[-3.0,0.2],[-2.9,1.4],[-2.8,-0.5],[-2.7,3.0],[-2.6,-1.4],[-2.5,0.9],[-2.4,1.8],[-2.3,-0.2],[-2.2,5.2],[-2.2,0.5],[-2.1,-1.1],[-2.0,1.3],[-2.0,2.6],[-1.9,-0.6],[-1.8,0.2],[-1.8,3.8],[-1.7,-1.6],[-1.6,1.0],[-1.6,-0.3],[-1.5,2.0],[-1.4,-1.0],[-1.4,0.6],[-1.3,4.0],[-1.2,-0.1],[-1.2,-2.0],[-1.1,1.5],[-1.0,0.3],[-1.0,-1.3],[-0.9,2.8],[-0.9,-0.6],[-0.8,5.9],[-0.8,0.9],[-0.7,-1.8],[-0.7,0.0],[-0.6,1.8],[-0.6,-0.9],[-0.5,3.2],[-0.5,0.4],[-0.4,-1.5],[-0.4,1.1],[-0.3,-0.3],[-0.3,2.3],[-0.2,-2.2],[-0.2,0.7],[-0.1,-0.8],[-0.1,1.6],[0.0,0.1],[0.0,-1.2],[0.1,4.2],[0.1,-0.4],[0.2,1.0],[0.2,-1.9],[0.3,0.4],[0.4,2.5],[0.4,-1.0],[0.5,-0.1],[0.6,1.4],[0.6,-1.6],[0.7,0.6],[0.8,-0.7],[0.9,4.9],[1.0,0.0],[1.1,-1.3],[1.2,1.0],[1.3,-0.5],[1.4,-2.4],[1.5,0.4],[1.6,-1.1],[1.7,0.9],[1.8,-0.4],[1.9,-1.7],[-0.9,0.1],[-0.5,-0.4],[-1.5,0.0],[0.3,-0.6],[-1.1,0.9],[-0.2,-0.2],[-0.6,0.3],[0.0,0.8],[-1.3,-0.6],
[-2.0,0.0],[-1.9,-1.0],[-1.8,1.1],[-1.7,-0.3],[-1.6,0.5],[-1.5,-1.3],[-1.4,1.3],[-1.3,-0.2],[-1.2,0.6],[-1.1,-1.0],[-1.0,1.9],[-0.9,-1.5],[-0.8,0.3],[-0.7,1.2],[-0.6,-0.4],[-0.5,-1.1],[-0.4,0.2],[-0.3,1.4],[-0.2,0.0],[-0.1,-1.5],[0.0,0.4],[0.1,1.2],[0.2,-0.6],[0.3,-1.3],[0.4,0.5],[0.5,1.0],[0.6,-0.4],[0.7,-1.2],[0.8,0.2],[0.9,-0.9],[1.0,0.7],[-0.5,2.6],[-1.1,2.5],[0.2,2.2],[-0.9,3.6],[-0.3,-2.0],[0.5,-2.1],[-1.6,-1.8],[1.3,0.6],[-2.3,1.0]];

const panelPoints=[ptsNormCypGus,ptsNormCypMir,ptsNormGusMir,ptsKircCypGus,ptsKircCypMir,ptsKircGusMir,ptsNormCypRp,ptsNormCypMir,ptsNormRpMir,ptsKircCypRp,ptsKircCypMir,ptsKircRpMir,ptsNormVegLifr,ptsNormVegMir,ptsNormLifrMir,ptsKircVegLifr,ptsKircVegMir,ptsKircLifrMir];

// layout (pixels in 1361x1568 view space): yAxisX, xAxisY, firstXtickPx, lastXtickPx, firstYtickPx, lastYtickPx, rightEdgePx, titleBaseline, yLabelOffset
const layout=[
[120,206,166,406,172,45,455,26,46],[562,207,605,846,197,45,897,26,28],[978,207,1035,1330,197,40,1340,26,28],
[120,446,130,425,430,318,455,291,46],[562,447,568,860,445,293,897,291,28],[978,447,1030,1272,445,293,1340,291,28],
[120,714,168,410,695,562,455,536,46],[562,714,603,848,708,548,897,536,28],[978,714,1048,1323,708,548,1340,536,28],
[120,972,128,420,955,822,455,800,46],[562,972,568,862,958,802,897,800,28],[978,972,1040,1300,958,802,1340,800,28],
[120,1240,158,396,1205,1085,455,1061,46],[562,1240,602,840,1205,1097,897,1061,28],[978,1240,1066,1310,1205,1097,1340,1061,28],
[120,1500,190,415,1470,1340,455,1330,46],[562,1500,633,855,1462,1352,897,1330,28],[978,1500,990,1340,1462,1352,1340,1330,28]];
const kircPanel=[0,0,0,1,1,1,0,0,0,1,1,1,0,0,0,1,1,1];

const NS='http://www.w3.org/2000/svg';
const svg=document.getElementById('fig');
function mk(tag,attrs,parent){const e=document.createElementNS(NS,tag);for(const k in attrs)e.setAttribute(k,attrs[k]);parent.appendChild(e);return e;}

for(let i=0;i<18;i++){
  const L=layout[i],xt=xTicks[i],yt=yTicks[i];
  const ax=L[0],ay=L[1];
  const xs=(L[3]-L[2])/(xt[xt.length-1]-xt[0]);
  const ys=(L[4]-L[5])/(yt[yt.length-1]-yt[0]);
  const X=v=>L[2]+(v-xt[0])*xs;
  const Y=v=>L[4]-(v-yt[0])*ys;
  const g=mk('g',{},svg);
  
  
  const cx=(ax+L[6])/2+15;
  const t=mk('text',{x:cx,y:L[7],'font-size':23,'text-anchor':'middle'},g);
  t.textContent=titles[i];
  
  
  const pg=mk('g',{fill:'#666'},g);
  
  
  const rx=kircPanel[i]?3.2:2.7, ry=kircPanel[i]?2.1:1.8;
  for(const p of panelPoints[i]){
    const d=mk('ellipse',{cx:X(p[0]).toFixed(1),cy:Y(p[1]).toFixed(1),rx:rx,ry:ry},pg);
    
    
  }
  const x0=xt[0]+(ax-L[2])/xs, x1=xt[0]+(L[6]-L[2])/xs;
  const ln=mk('line',{x1:X(x0),y1:Y(fitIntercept[i]+fitSlope[i]*x0),x2:X(x1),y2:Y(fitIntercept[i]+fitSlope[i]*x1),stroke:'#000','stroke-width':2.4},g);
  
  
  const yg=mk('g',{stroke:'#000','stroke-width':1.2},g);
  
  
  mk('line',{x1:ax,y1:Y(yt[0]),x2:ax,y2:Y(yt[yt.length-1])},yg);
  for(const v of yt){
    mk('line',{x1:ax-6,y1:Y(v),x2:ax,y2:Y(v)},yg);
    const tl=mk('text',{x:ax-8,y:Y(v),'font-size':22,'text-anchor':'middle',transform:`rotate(-90 ${ax-8} ${Y(v)})`,stroke:'none'},g);
    tl.textContent=(v<0?'−':'')+Math.abs(v);
    
    
  }
  const ym=(Y(yt[0])+Y(yt[yt.length-1]))/2, yx=ax-L[8];
  const yl=mk('text',{x:yx,y:ym,'font-size':23,'text-anchor':'middle',transform:`rotate(-90 ${yx} ${ym})`},g);
  yl.textContent=yLabels[i];
  
  
  const xg=mk('g',{stroke:'#000','stroke-width':1.2},g);
  
  
  mk('line',{x1:X(xt[0]),y1:ay,x2:X(xt[xt.length-1]),y2:ay},xg);
  for(const v of xt){
    mk('line',{x1:X(v),y1:ay,x2:X(v),y2:ay+6},xg);
    const tl=mk('text',{x:X(v),y:ay+28,'font-size':22,'text-anchor':'middle'},g);
    tl.textContent=(v<0?'−':'')+Math.abs(v);
    
    
  }
  const xl=mk('text',{x:(X(xt[0])+X(xt[xt.length-1]))/2,y:ay+53,'font-size':23,'text-anchor':'middle'},g);
  xl.textContent=xLabels[i];
  
  
}
</script>
</body></html>
